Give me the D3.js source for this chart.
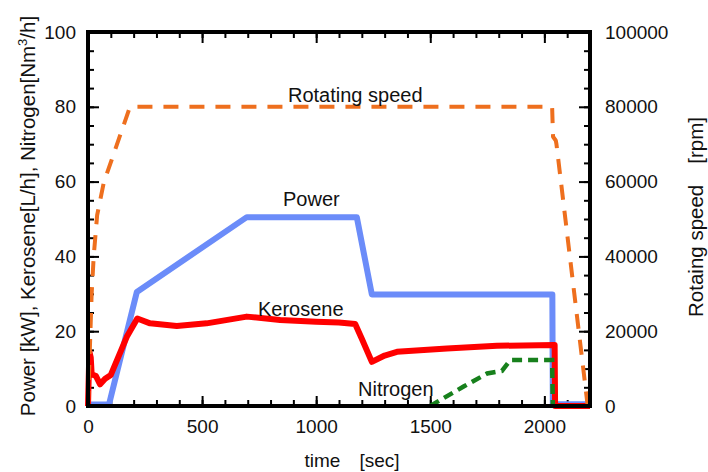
<!DOCTYPE html>
<html>
<head>
<meta charset="utf-8" />
<title>Power, Kerosene, Nitrogen, Rotating speed</title>
<style>
body {
	margin: 0;
	padding: 0;
	background-color: #fff;
}
svg {
	display: block;
	font-family: "Liberation Sans", Arial, sans-serif;
}
.axis text {
	font-size: 19px;
	fill: #111;
}
.axis line {
	stroke: #000;
	stroke-width: 2;
}
.series {
	fill: none;
	stroke-linejoin: round;
}
</style>
</head>
<body>
<svg></svg>
<script src="https://cdn.jsdelivr.net/npm/d3@7"></script>
<script>

/*********
 Data
**********/
// rotating speed [rpm]
var rpmTime  = [0, 8, 16, 25, 40, 70, 82, 184, 2034, 2038, 2050, 2053, 2190];
var rpmValue = [0, 15000, 30000, 40000, 51000, 60000, 62000, 80000, 80000, 72000, 71000, 70000, 0];

// power [kW]
var powerTime  = [0, 92, 214, 696, 1178, 1244, 2035, 2037, 2200];
var powerValue = [0.4, 0.4, 30.5, 50.5, 50.5, 29.8, 29.8, 0.5, 0.5];

// kerosene [L/h]
var keroTime  = [0, 6, 12, 16, 35, 53, 75, 100, 170, 216, 272, 389, 520, 696, 842, 1000, 1100, 1171, 1200, 1244, 1300, 1354, 1573, 1792, 2045, 2047, 2200];
var keroValue = [0, 14.5, 13, 8.5, 8, 5.8, 7.3, 8.3, 18.5, 23.4, 22.1, 21.4, 22.1, 23.9, 23, 22.5, 22.3, 21.9, 18, 11.8, 13.5, 14.5, 15.4, 16.1, 16.3, 0, 0];

// nitrogen [Nm3/h]
var n2Time  = [1500, 1544, 1646, 1749, 1814, 1851, 2034, 2037];
var n2Value = [0, 1.6, 5.2, 8.7, 9.4, 12.3, 12.3, 0];

// axes
var xTicks = [0, 500, 1000, 1500, 2000];
var yTicks = [0, 20, 40, 60, 80, 100];
var y2Ticks = [0, 20000, 40000, 60000, 80000, 100000];

/*********
 Layout
**********/
var w = 708, h = 472;
var margin = {left: 88, top: 32, right: 118, bottom: 66};
var pw = w - margin.left - margin.right;
var ph = h - margin.top - margin.bottom;

var svg = d3.select("svg")
	.attr("width", w)
	.attr("height", h);

var g = svg.append("g")
	.attr("transform", "translate(" + margin.left + "," + margin.top + ")");

var x = d3.scaleLinear().domain([0, 2200]).range([0, pw]);
var y = d3.scaleLinear().domain([0, 100]).range([ph, 0]);
var y2 = d3.scaleLinear().domain([0, 100000]).range([ph, 0]);

var major = 11, minor = 6;

// minor ticks (no labels)
g.append("g").attr("class", "axis")
	.call(d3.axisLeft(y).tickValues(d3.range(0, 101, 5)).tickSize(-minor).tickFormat(""));
g.append("g").attr("class", "axis")
	.attr("transform", "translate(" + pw + ",0)")
	.call(d3.axisRight(y2).tickValues(d3.range(0, 100001, 5000)).tickSize(-minor).tickFormat(""));
g.append("g").attr("class", "axis")
	.attr("transform", "translate(0," + ph + ")")
	.call(d3.axisBottom(x).tickValues(d3.range(0, 2201, 100)).tickSize(-minor).tickFormat(""));
g.append("g").attr("class", "axis")
	.call(d3.axisTop(x).tickValues(d3.range(0, 2201, 100)).tickSize(-minor).tickFormat(""));

// major ticks
g.append("g").attr("class", "axis")
	.call(d3.axisLeft(y).tickValues(yTicks).tickSize(-major).tickPadding(12).tickFormat(d3.format("d")));
g.append("g").attr("class", "axis")
	.attr("transform", "translate(" + pw + ",0)")
	.call(d3.axisRight(y2).tickValues(y2Ticks).tickSize(-major).tickPadding(15).tickFormat(d3.format("d")));
g.append("g").attr("class", "axis")
	.attr("transform", "translate(0," + ph + ")")
	.call(d3.axisBottom(x).tickValues(xTicks).tickSize(-major + 1).tickPadding(14).tickFormat(d3.format("d")));
g.append("g").attr("class", "axis")
	.call(d3.axisTop(x).tickValues(xTicks).tickSize(-major).tickFormat(""));

g.selectAll(".axis .domain").remove();

/*********
 Series
**********/
function pairs(ts, vs) {
	return ts.map(function(t, i) { return [t, vs[i]]; });
}

var line = d3.line()
	.x(function(d) { return x(d[0]); })
	.y(function(d) { return y(d[1]); });
var line2 = d3.line()
	.x(function(d) { return x(d[0]); })
	.y(function(d) { return y2(d[1]); });

g.append("path").attr("class", "series")
	.attr("d", line(pairs(powerTime, powerValue)))
	.style("stroke", "#6b8cf9")
	.style("stroke-width", 6);

g.append("path").attr("class", "series")
	.attr("d", line(pairs(keroTime, keroValue)))
	.style("stroke", "#ff0000")
	.style("stroke-width", 6);

g.append("path").attr("class", "series")
	.attr("d", line(pairs(n2Time, n2Value)))
	.style("stroke", "#17801c")
	.style("stroke-width", 4.5)
	.style("stroke-linejoin", "miter")
	.style("stroke-dasharray", "10,6");

g.append("path").attr("class", "series")
	.attr("d", line2(pairs(rpmTime, rpmValue)))
	.style("stroke", "#ee6f1e")
	.style("stroke-width", 4)
	.style("stroke-dasharray", "15,11");

// frame
g.append("rect")
	.attr("x", 0).attr("y", 0)
	.attr("width", pw).attr("height", ph)
	.style("fill", "none")
	.style("stroke", "#000")
	.style("stroke-width", 4);

/*********
 Labels
**********/
var labels = [
	{text: "Rotating speed", x: 288, y: 102},
	{text: "Power", x: 283, y: 206},
	{text: "Kerosene", x: 258, y: 316},
	{text: "Nitrogen", x: 358, y: 396}
];
svg.selectAll(".serieslabel")
	.data(labels)
	.enter().append("text")
	.attr("class", "serieslabel")
	.attr("x", function(d) { return d.x; })
	.attr("y", function(d) { return d.y; })
	.style("font-size", "20px")
	.style("fill", "#111")
	.text(function(d) { return d.text; });

svg.append("text")
	.attr("x", 352).attr("y", 467)
	.style("text-anchor", "middle")
	.style("font-size", "19px")
	.style("fill", "#111")
	.text("time\u3000[sec]");

var ylab = svg.append("text")
	.attr("transform", "translate(35,216) rotate(-90)")
	.style("text-anchor", "middle")
	.style("font-size", "20.5px")
	.style("fill", "#111");
ylab.append("tspan").text("Power [kW], Kerosene[L/h], Nitrogen[Nm");
ylab.append("tspan").attr("dy", -8).style("font-size", "13px").text("3");
ylab.append("tspan").attr("dy", 8).text("/h]");

svg.append("text")
	.attr("transform", "translate(703,217) rotate(-90)")
	.style("text-anchor", "middle")
	.style("font-size", "20.5px")
	.style("fill", "#111")
	.text("Rotaing speed\u3000[rpm]");

</script>
</body>
</html>
